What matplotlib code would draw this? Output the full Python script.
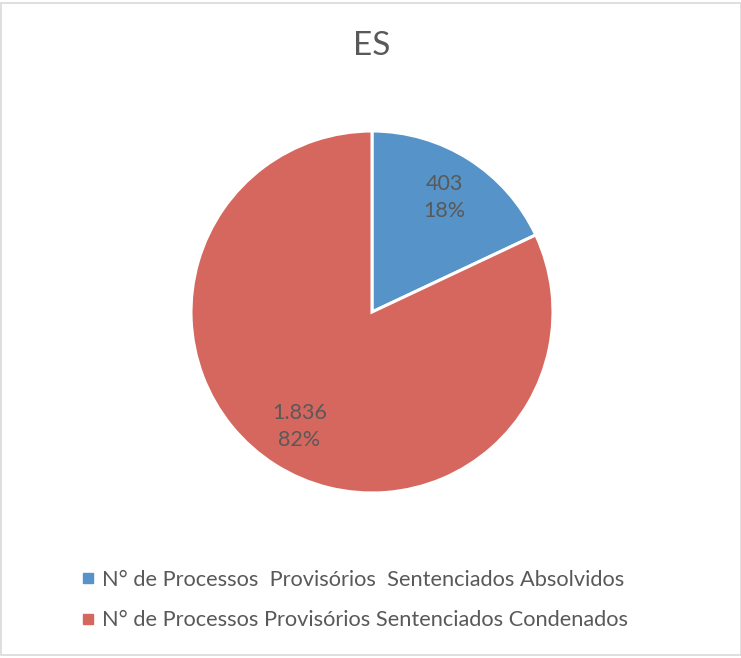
import matplotlib.pyplot as plt
from matplotlib.lines import Line2D
from matplotlib.patches import Rectangle

# --- data ---
labels = [
    "N° de Processos  Provisórios  Sentenciados Absolvidos",
    "N° de Processos Provisórios Sentenciados Condenados",
]
values = [403, 1836]
value_text = ["403", "1.836"]
colors = ["#5593C8", "#D6675F"]
title = "ES"

plt.rcParams['font.family'] = ['Lato', 'DejaVu Sans']
text_color = "#595959"

W, H = 741, 658
fig = plt.figure(figsize=(W / 100, H / 100), dpi=100)

# light frame around the chart area
fig.patches.append(Rectangle((1 / W, 3 / H), (W - 1) / W, (H - 6) / H,
                             transform=fig.transFigure, fill=False,
                             edgecolor="#D9D9D9", linewidth=1.2))

# pie axes: centre (372, 312) px, radius 181 px
cx, cy, r = 372, 312, 181
ax = fig.add_axes([(cx - r) / W, 1 - (cy + r) / H, 2 * r / W, 2 * r / H])

total = sum(values)


def fmt(pct):
    # match slice by its percentage
    idx = min(range(len(values)), key=lambda i: abs(values[i] / total * 100 - pct))
    return f"{value_text[idx]}\n{pct:.0f}%"


wedges, _, autotexts = ax.pie(values, colors=colors, startangle=90, counterclock=False,
                              autopct=fmt, pctdistance=0.75, radius=1,
                              wedgeprops=dict(edgecolor="white", linewidth=2.2),
                              textprops=dict(color=text_color, fontsize=15.5))
for t in autotexts:
    t.set_linespacing(1.4)
ax.set_xlim(-1, 1)
ax.set_ylim(-1, 1)
ax.axis("off")

fig.text(cx / W, 1 - 46 / H, title, ha="center", va="center",
         fontsize=24, color=text_color)

handles = [Line2D([], [], marker="s", linestyle="none", markersize=7,
                  markerfacecolor=c, markeredgecolor=c) for c in colors]
fig.legend(handles, labels, loc="upper left", bbox_to_anchor=(74 / W, 1 - 561 / H),
           frameon=False, fontsize=15.7, labelcolor=text_color,
           handlelength=0.5, handletextpad=0.4, labelspacing=0.95, borderaxespad=0)

fig.savefig("out.png", dpi=100, facecolor="white")
